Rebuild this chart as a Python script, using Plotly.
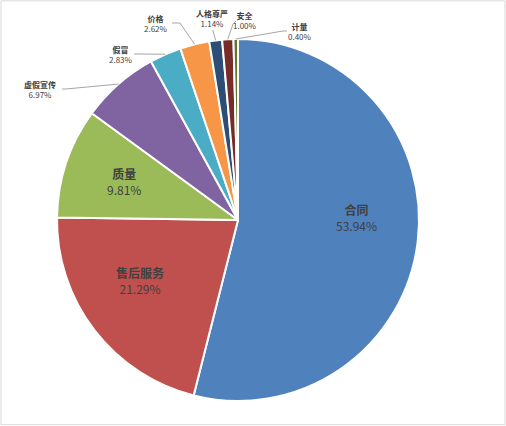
import math
import plotly.graph_objects as go

# complaint categories and their share (%)
categories = ["合同", "售后服务", "质量", "虚假宣传", "假冒", "价格", "人格尊严", "安全", "计量"]
shares = [53.94, 21.29, 9.81, 6.97, 2.83, 2.62, 1.14, 1.00, 0.40]
colors = ["#4F81BD", "#C0504D", "#9BBB59", "#8064A2", "#4BACC6",
          "#F79646", "#2C4D75", "#772C2A", "#5F7530"]

W, H = 506, 426
CX, CY, R = 238, 220, 181


def px(x):
    return x / W


def py(y):
    return 1 - y / H


# label centres (pixels) - inside labels for big slices
inside_pos = {"合同": (356, 218), "售后服务": (140, 280), "质量": (124, 182)}
inside_size = {"合同": 12, "售后服务": 12, "质量": 12}
# outside labels: text centre, leader start, leader elbow
outside_pos = {
    "虚假宣传": ((40, 89), (62, 89), (66, 89)),
    "假冒": ((121, 54), (134, 54), (140, 54)),
    "价格": ((156, 23), (172, 23), (180, 23)),
    "人格尊严": ((212, 19), (213, 30), (213, 31)),
    "安全": ((245, 20), (236, 21), (233, 24)),
    "计量": ((300, 31), (287, 31), (283, 31)),
}

fig = go.Figure(go.Pie(
    labels=categories, values=shares, sort=False, direction="clockwise",
    rotation=0, marker=dict(colors=colors, line=dict(color="white", width=2)),
    textinfo="none", hoverinfo="label+percent", showlegend=False,
    domain=dict(x=[px(CX - R), px(CX + R)], y=[py(CY + R), py(CY - R)]),
))

annotations = []
shapes = [dict(type="rect", xref="paper", yref="paper", x0=0.002, x1=0.998,
               y0=0.003, y1=0.998, line=dict(color="#D9D9D9", width=1))]

total = sum(shares)
cum = 0
for name, v in zip(categories, shares):
    mid = (cum + v / 2) / total * 2 * math.pi
    cum += v
    tx = CX + R * math.sin(mid)
    ty = CY - R * math.cos(mid)
    if name in inside_pos:
        x, y = inside_pos[name]
        annotations.append(dict(
            x=px(x), y=py(y), xref="paper", yref="paper", showarrow=False,
            xanchor="center", yanchor="middle",
            text="<b>%s</b><br>%.2f%%" % (name, v),
            font=dict(family="Noto Sans CJK SC", size=inside_size[name], color="#404040")))
    else:
        (x, y), (sx, sy), (ex, ey) = outside_pos[name]
        annotations.append(dict(
            x=px(x), y=py(y), xref="paper", yref="paper", showarrow=False,
            xanchor="center", yanchor="middle",
            text="<b>%s</b><br>%.2f%%" % (name, v),
            font=dict(family="Noto Sans CJK SC", size=8, color="#404040")))
        path = "M %f,%f L %f,%f L %f,%f" % (px(sx), py(sy), px(ex), py(ey), px(tx), py(ty))
        shapes.append(dict(type="path", xref="paper", yref="paper", path=path,
                           line=dict(color="#A6A6A6", width=1)))

fig.update_layout(
    width=W, height=H, margin=dict(l=0, r=0, t=0, b=0),
    paper_bgcolor="white", plot_bgcolor="white",
    annotations=annotations, shapes=shapes,
)

# page body has a default 8px margin; drop it so the chart sits at the corner
fig.write_html("out.html", config={"displayModeBar": False},
               post_script="document.body.style.margin='0';")
